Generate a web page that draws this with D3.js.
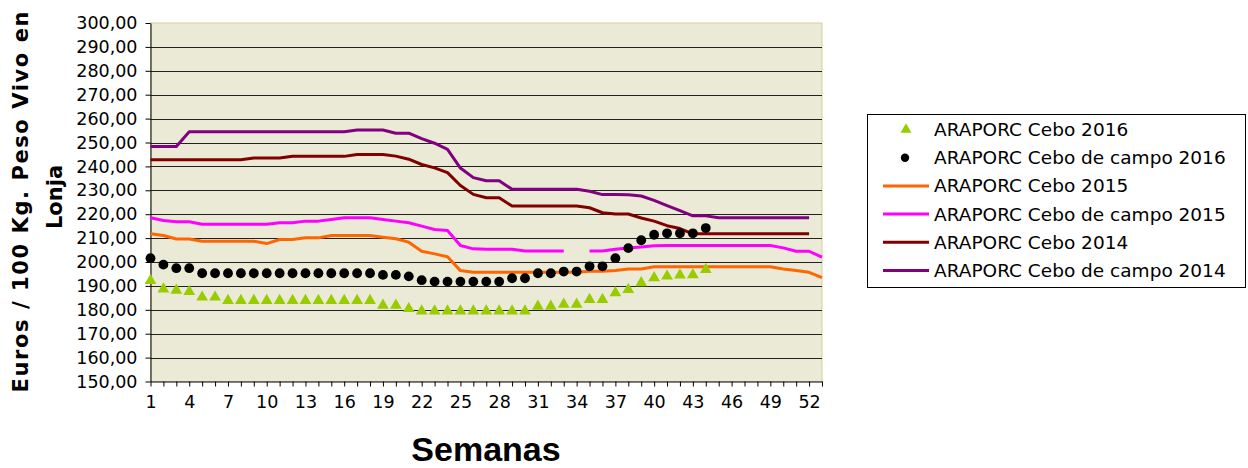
<!DOCTYPE html>
<html><head><meta charset="utf-8">
<script src="https://cdn.jsdelivr.net/npm/d3@7/dist/d3.min.js"></script>
<style>body{margin:0;background:#fff;} svg{display:block;}</style>
</head><body>
<svg id="chart" width="1248" height="468"></svg>
<script>
// ---- data ----
const weeks = [1,2,3,4,5,6,7,8,9,10,11,12,13,14,15,16,17,18,19,20,21,22,23,24,25,26,27,28,29,30,31,32,33,34,35,36,37,38,39,40,41,42,43,44,45,46,47,48,49,50,51,52,53];
const xTickLabels = [1,4,7,10,13,16,19,22,25,28,31,34,37,40,43,46,49,52];
const yTicks = [150,160,170,180,190,200,210,220,230,240,250,260,270,280,290,300];
const seriesNames = ["ARAPORC Cebo 2016","ARAPORC Cebo de campo 2016","ARAPORC Cebo 2015","ARAPORC Cebo de campo 2015","ARAPORC Cebo 2014","ARAPORC Cebo de campo 2014"];

const cebo2016 = [192.6,189.0,188.5,188.0,185.6,185.6,184.2,184.2,184.2,184.2,184.2,184.2,184.2,184.2,184.2,184.2,184.2,184.2,182.2,182.2,180.8,179.8,179.8,179.8,179.8,179.8,179.8,179.8,179.8,179.8,181.8,181.8,182.6,182.6,184.6,184.6,187.4,188.8,191.6,193.7,194.4,194.9,195.0,197.2];
const campo2016 = [201.6,198.9,197.4,197.4,195.3,195.3,195.3,195.3,195.3,195.3,195.3,195.3,195.3,195.3,195.3,195.3,195.3,195.3,194.6,194.6,194.0,192.4,191.8,191.8,191.8,191.8,191.8,191.8,193.2,193.2,195.3,195.3,196.0,196.0,198.2,198.2,201.6,205.8,209.1,211.4,212.0,212.0,212.0,214.2];
const cebo2015 = [211.8,211.1,209.6,209.6,208.7,208.7,208.7,208.7,208.7,207.7,209.4,209.4,210.1,210.1,211.1,211.1,211.1,211.1,210.4,209.7,208.3,204.5,203.4,202.2,196.4,195.7,195.7,195.7,195.7,195.7,195.7,195.7,195.7,195.7,196.1,196.1,196.4,197.1,197.1,198.0,198.0,198.0,198.0,198.0,198.0,198.0,198.0,198.0,198.0,197.1,196.4,195.7,193.5];
const campo2015 = [218.5,217.4,216.8,216.8,215.8,215.8,215.8,215.8,215.8,215.8,216.4,216.4,217.1,217.1,217.8,218.5,218.5,218.5,217.8,217.1,216.4,215.0,213.6,213.2,206.9,205.5,205.3,205.3,205.3,204.6,204.6,204.6,204.6,null,204.6,204.6,205.3,205.9,206.3,206.8,206.9,206.9,206.9,206.9,206.9,206.9,206.9,206.9,206.9,205.9,204.5,204.5,202.0];
const cebo2014 = [242.8,242.8,242.8,242.8,242.8,242.8,242.8,242.8,243.5,243.5,243.5,244.2,244.2,244.2,244.2,244.2,245.0,245.0,245.0,244.3,243.0,240.8,239.4,237.4,232.0,228.3,226.9,226.9,223.4,223.4,223.4,223.4,223.4,223.4,222.7,220.6,220.1,220.1,218.4,217.1,215.2,214.0,211.8,211.8,211.8,211.8,211.8,211.8,211.8,211.8,211.8,211.8,null];
const campo2014 = [248.3,248.3,248.3,254.5,254.5,254.5,254.5,254.5,254.5,254.5,254.5,254.5,254.5,254.5,254.5,254.5,255.2,255.2,255.2,253.9,253.9,251.6,249.7,247.1,239.3,235.3,234.0,234.0,230.4,230.4,230.4,230.4,230.4,230.4,229.6,228.2,228.2,228.1,227.6,225.8,223.6,221.5,219.3,219.3,218.5,218.5,218.5,218.5,218.5,218.5,218.5,218.5,null];

const lineColors = ["#FF6600","#FF00FF","#800000","#800080"];
const triColor = "#99CC00";

// ---- chart ----
const svg = d3.select("#chart");
const pL = 150.5, pR = 822, pT = 23, pB = 381.5;
const x = d3.scaleLinear().domain([1,53]).range([pL,pR]);
const y = d3.scaleLinear().domain([150,300]).range([pB,pT]);

// plot background
svg.append("rect").attr("x",pL).attr("y",pT).attr("width",pR-pL).attr("height",pB-pT)
  .attr("fill","#EAEAD7").attr("stroke","#D8CF9F").attr("stroke-width",1);

// gridlines
svg.append("g").selectAll("line").data(yTicks.filter(d=>d>150 && d<300)).join("line")
  .attr("x1",pL).attr("x2",pR)
  .attr("y1",d=>Math.round(y(d))+0.5).attr("y2",d=>Math.round(y(d))+0.5)
  .attr("stroke","#222").attr("stroke-width",1);

// axes
const fmt = d => d.toFixed(2).replace(".",",");
const yAxis = svg.append("g").attr("transform",`translate(${pL},0)`)
  .call(d3.axisLeft(y).tickValues(yTicks).tickSize(5).tickSizeOuter(0).tickPadding(8).tickFormat(fmt));
const xAxis = svg.append("g").attr("transform",`translate(0,${pB})`)
  .call(d3.axisBottom(x).tickValues(weeks).tickSize(5).tickSizeOuter(0).tickPadding(9)
    .tickFormat(d => xTickLabels.includes(d) ? String(d) : ""));
[yAxis,xAxis].forEach(g=>{
  g.select(".domain").attr("stroke","#000");
  g.selectAll(".tick line").attr("stroke","#000");
  g.selectAll("text").attr("font-family","DejaVu Sans").attr("font-size","17.5px").attr("fill","#000");
});

// lines
const lineGen = d3.line().defined(d=>d!=null).x((d,i)=>x(weeks[i])).y(d=>y(d));
[cebo2015,campo2015,cebo2014,campo2014].forEach((s,k)=>{
  svg.append("path").datum(s).attr("d",lineGen)
    .attr("fill","none").attr("stroke",lineColors[k]).attr("stroke-width",3)
    .attr("stroke-linejoin","round");
});

// markers
const tri = d3.symbol().type(d3.symbolTriangle).size(60);
svg.append("g").selectAll("path").data(cebo2016).join("path")
  .attr("d",tri).attr("fill",triColor)
  .attr("transform",(d,i)=>`translate(${x(weeks[i])},${y(d)+0.8})`);
svg.append("g").selectAll("circle").data(campo2016).join("circle")
  .attr("cx",(d,i)=>x(weeks[i])).attr("cy",d=>y(d)).attr("r",4.9).attr("fill","#000");

// axis titles
svg.append("text").attr("x",486).attr("y",460.5).attr("text-anchor","middle")
  .attr("font-family","Liberation Sans, Arial").attr("font-weight","bold").attr("font-size","34px")
  .text("Semanas");
const yt = svg.append("g").attr("font-family","DejaVu Sans").attr("font-weight","bold").attr("font-size","21px");
yt.append("text").attr("transform","translate(28,202) rotate(-90)").attr("text-anchor","middle")
  .attr("textLength",381).attr("lengthAdjust","spacing").text("Euros / 100 Kg. Peso Vivo en");
yt.append("text").attr("transform","translate(62,197) rotate(-90)").attr("text-anchor","middle").text("Lonja");

// legend
const lg = svg.append("g");
lg.append("rect").attr("x",867.5).attr("y",114.5).attr("width",378).attr("height",173)
  .attr("fill","#fff").attr("stroke","#000").attr("stroke-width",1);
const triL = d3.symbol().type(d3.symbolTriangle).size(52);
seriesNames.forEach((name,i)=>{
  const by = 136 + i*28.2, my = by - 6.5;
  if(i===0){
    lg.append("path").attr("d",triL).attr("fill",triColor).attr("transform",`translate(906,${my})`);
  } else if(i===1){
    lg.append("circle").attr("cx",905).attr("cy",my).attr("r",4.2).attr("fill","#000");
  } else {
    lg.append("line").attr("x1",883).attr("x2",929).attr("y1",my).attr("y2",my)
      .attr("stroke",lineColors[i-2]).attr("stroke-width",3);
  }
  lg.append("text").attr("x",934).attr("y",by).attr("font-family","DejaVu Sans").attr("font-size","18.5px")
    .attr("fill","#000").text(name);
});
</script>
</body></html>
